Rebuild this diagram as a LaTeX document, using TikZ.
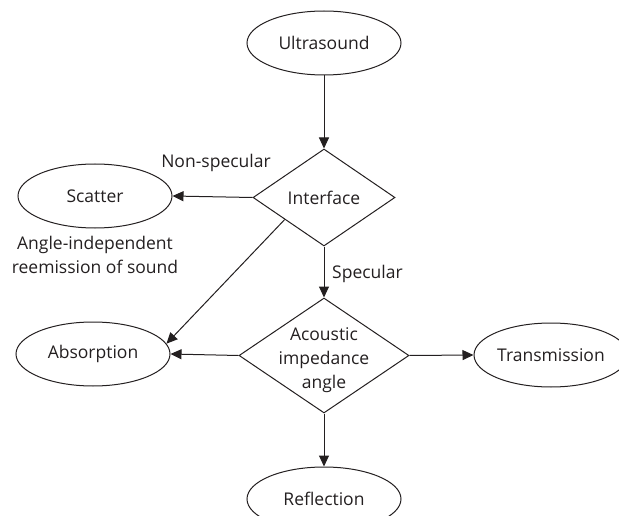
\documentclass[tikz,border=0pt]{standalone}
\usepackage{fontspec}
\setmainfont{Open Sans}
\usetikzlibrary{shapes.geometric,arrows.meta,calc}
\definecolor{ink}{HTML}{231F20}
\begin{document}
\begin{tikzpicture}[x=1pt,y=-1pt,
  every node/.style={font=\fontsize{17.5}{24}\selectfont, text=ink},
  oval/.style={draw=ink, ellipse, minimum width=154pt, minimum height=64pt,
    inner sep=0pt, line width=1pt},
  choice/.style={draw=ink, diamond, inner sep=0pt, line width=1pt},
  flow/.style={draw=ink, line width=1pt, -{Triangle[length=11pt,width=10pt]}},
  caption/.style={inner sep=0pt, align=center}
]
\useasboundingbox (0,0) rectangle (619,516);
\clip (0,0) rectangle (619,516);

% outcome ellipses
\node[oval] (us)  at (324,43)  {Ultrasound};
\node[oval] (sca) at (95,196)  {Scatter};
\node[oval] (abs) at (93,354)  {Absorption};
\node[oval] (tra) at (551,355) {Transmission};
\node[oval] (ref) at (324,499) {Reflection};

% decision diamonds
\node[choice, minimum width=142pt, minimum height=97pt]  (int) at (324,197.5) {};
\node[caption] (intlbl) at (int.center) {Interface};
\node[choice, minimum width=170pt, minimum height=115pt] (aci) at (324,355.5) {};
\node[caption] (acilbl) at (324,360) {Acoustic\\impedance\\angle};

% free labels
\node[caption] (nsp)  at (216,163) {Non-specular};
\node[caption] (desc) at (95,255)  {Angle-independent\\reemission of sound};
\node[caption, anchor=west] (spe) at (332,274) {Specular};

% connectors
\coordinate (diag) at ($(int.west)!0.45!(int.south)$);
\draw[flow] (us.south) -- (int.north);
\draw[flow] (int.west) -- (sca.east);
\draw[flow] (diag) -- (abs.8);
\draw[flow] (int.south) -- (aci.north);
\draw[flow] (aci.west) -- (abs.east);
\draw[flow] (aci.east) -- (tra.west);
\draw[flow] (aci.south) -- (ref.north);
\end{tikzpicture}
\end{document}
